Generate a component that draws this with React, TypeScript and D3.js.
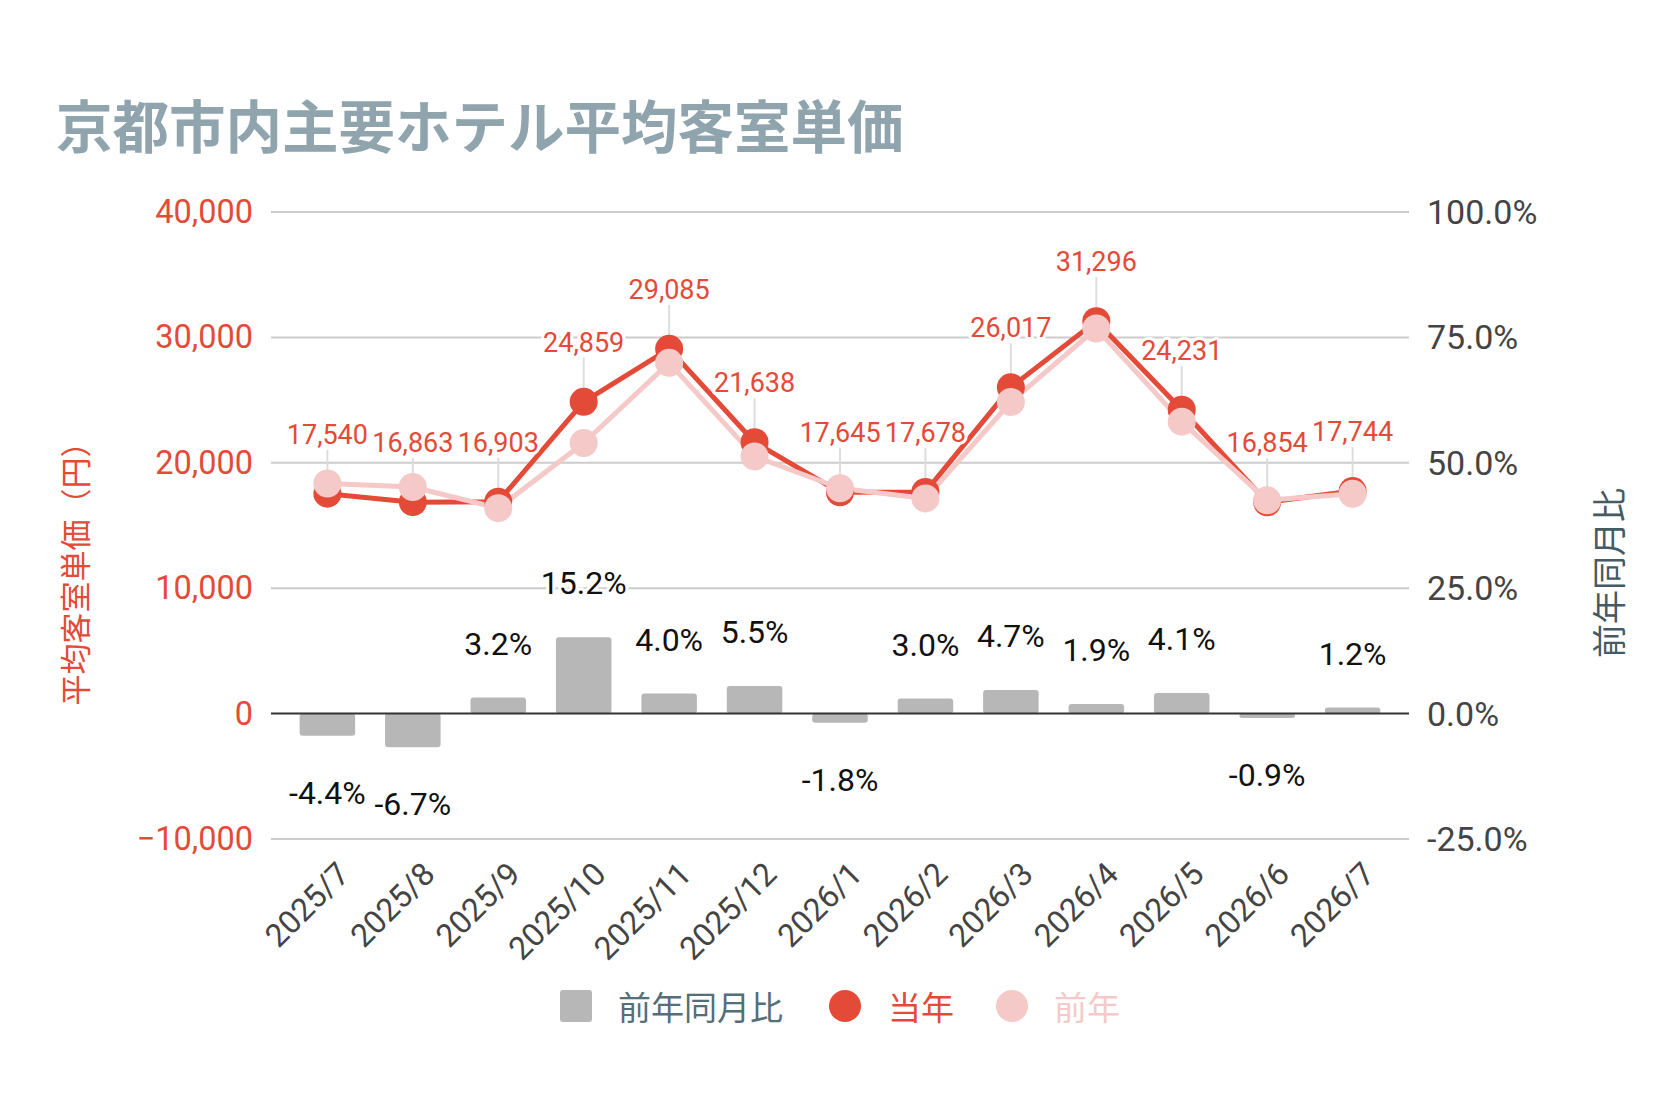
import { useEffect } from 'react'
import * as d3 from 'd3'

const months = ['2025/7', '2025/8', '2025/9', '2025/10', '2025/11', '2025/12', '2026/1', '2026/2', '2026/3', '2026/4', '2026/5', '2026/6', '2026/7']
const thisYear = [17540, 16863, 16903, 24859, 29085, 21638, 17645, 17678, 26017, 31296, 24231, 16854, 17744]
const lastYear = [18350, 18070, 16380, 21580, 27970, 20510, 17970, 17160, 24850, 30710, 23280, 17010, 17530]
const yoy = [-4.4, -6.7, 3.2, 15.2, 4.0, 5.5, -1.8, 3.0, 4.7, 1.9, 4.1, -0.9, 1.2]
const leftTicks = [-10000, 0, 10000, 20000, 30000, 40000]
const rightTicks = [-25, 0, 25, 50, 75, 100]

const W = 1680
const H = 1120
const RED = '#e34a37'
const PINK = '#f4c9c8'
const BAR = '#b7b7b7'
const JP = '"Noto Sans CJK JP", "Noto Sans", sans-serif'
const NUM = 'Roboto, "Noto Sans", sans-serif'

export default function App() {
  useEffect(() => {
    document.body.style.margin = '0'
  }, [])

  const x = d3.scalePoint<string>().domain(months).range([271, 1409]).padding(0.66)
  const y = d3.scaleLinear().domain([-10000, 40000]).range([839, 212])
  const yr = d3.scaleLinear().domain([-25, 100]).range([839, 212])
  const bw = x.step() * 0.65

  const line = d3.line<number>()
    .x((_, i) => x(months[i])!)
    .y(d => y(d))

  const fmt = d3.format(',')

  return (
    <svg width={W} height={H} style={{ display: 'block', background: '#fff' }}>
      {/* title */}
      <text x={56} y={123} dominantBaseline="central" fontFamily={JP} fontWeight="bold" fontSize={56.5} fill="#90a4ae">
        京都市内主要ホテル平均客室単価
      </text>

      {/* grid */}
      {leftTicks.filter(t => t !== 0).map(t => (
        <line key={t} x1={271} x2={1409} y1={y(t)} y2={y(t)} stroke="#cccccc" strokeWidth={2} />
      ))}

      {/* left ticks */}
      {leftTicks.map(t => (
        <text key={t} x={253} y={y(t)} textAnchor="end" dominantBaseline="central" fontFamily={NUM} fontSize={32.5} fill={RED}>
          {fmt(t)}
        </text>
      ))}
      {/* right ticks */}
      {rightTicks.map(t => (
        <text key={t} x={1427} y={yr(t)} dominantBaseline="central" fontFamily={NUM} fontSize={34} fill="#444">
          {t.toFixed(1)}%
        </text>
      ))}

      {/* axis titles */}
      <text transform="translate(73,566) rotate(-90)" textAnchor="middle" dominantBaseline="central" fontFamily={JP} fontSize={31} fill={RED}>
        平均客室単価（円）
      </text>
      <text transform="translate(1607,573) rotate(-90)" textAnchor="middle" dominantBaseline="central" fontFamily={JP} fontSize={34} fill="#455a64">
        前年同月比
      </text>

      {/* bars */}
      {yoy.map((v, i) => {
        const top = Math.min(yr(v), yr(0))
        const h = Math.abs(yr(v) - yr(0))
        return <rect key={i} x={x(months[i])! - bw / 2} y={top} width={bw} height={h} rx={3} fill={BAR} />
      })}
      <line x1={271} x2={1409} y1={y(0)} y2={y(0)} stroke="#333" strokeWidth={2} />

      {/* bar labels */}
      {yoy.map((v, i) => {
        const ly = v >= 0 ? yr(v) - 54 : yr(v) + 57
        return (
          <text key={i} x={x(months[i])} y={ly} textAnchor="middle" dominantBaseline="central" fontFamily={NUM} fontSize={32}
            fill="#111" stroke="#fff" strokeWidth={6} paintOrder="stroke" strokeLinejoin="round">
            {v.toFixed(1)}%
          </text>
        )
      })}

      {/* lines */}
      <path d={line(thisYear)!} fill="none" stroke={RED} strokeWidth={5} strokeLinejoin="round" />
      <path d={line(lastYear)!} fill="none" stroke={PINK} strokeWidth={5} strokeLinejoin="round" />

      {/* stems */}
      {thisYear.map((v, i) => (
        <line key={i} x1={x(months[i])} x2={x(months[i])} y1={y(v) - 44} y2={y(v)} stroke="#dddddd" strokeWidth={2} />
      ))}

      {/* points */}
      {thisYear.map((v, i) => (
        <circle key={i} cx={x(months[i])} cy={y(v)} r={14} fill={RED} />
      ))}
      {lastYear.map((v, i) => (
        <circle key={i} cx={x(months[i])} cy={y(v)} r={14} fill={PINK} />
      ))}

      {/* value labels */}
      {thisYear.map((v, i) => (
        <text key={i} x={x(months[i])} y={y(v) - 50} textAnchor="middle" fontFamily={NUM} fontSize={27}
          fill={RED} stroke="#fff" strokeWidth={6} paintOrder="stroke" strokeLinejoin="round">
          {fmt(v)}
        </text>
      ))}

      {/* x labels */}
      {months.map(m => (
        <text key={m} transform={`translate(${x(m)! + 24},876) rotate(-45)`} textAnchor="end" fontFamily={NUM} fontSize={32} fill="#444">
          {m}
        </text>
      ))}

      {/* legend */}
      <rect x={560} y={990} width={32} height={32} rx={3} fill={BAR} />
      <text x={618} y={1006} dominantBaseline="central" fontFamily={JP} fontSize={33} fill="#546e7a">前年同月比</text>
      <circle cx={845} cy={1006} r={16} fill={RED} />
      <text x={888} y={1006} dominantBaseline="central" fontFamily={JP} fontSize={33} fill={RED}>当年</text>
      <circle cx={1012} cy={1006} r={16} fill={PINK} />
      <text x={1054} y={1006} dominantBaseline="central" fontFamily={JP} fontSize={33} fill={PINK}>前年</text>
    </svg>
  )
}
